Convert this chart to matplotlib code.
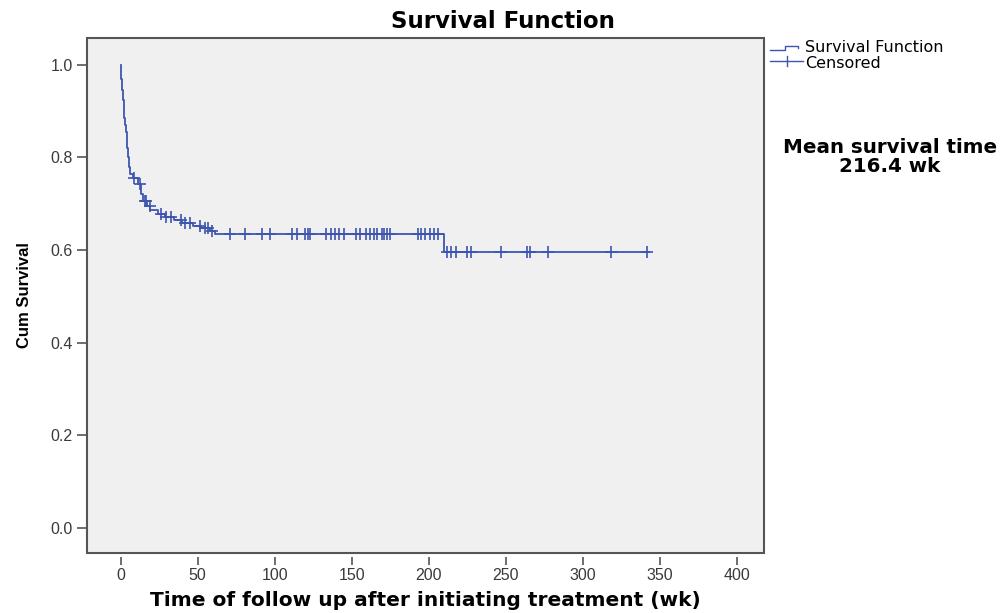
import numpy as np
import matplotlib
matplotlib.use("Agg")
import matplotlib.pyplot as plt
from matplotlib.lines import Line2D
from matplotlib.patches import Rectangle

plt.rcParams["font.family"] = ["Liberation Sans", "DejaVu Sans"]

# Kaplan-Meier steps (time in weeks, survival after the event)
event_t = [0, 0.5, 1, 1.5, 2, 2.5, 3, 3.5, 4, 4.5, 5, 5.5, 6, 8, 11, 13, 14.5,
           17, 19, 24, 29, 35, 40, 47, 52, 58, 61, 210]
event_s = [1.0, 0.97, 0.945, 0.925, 0.905, 0.885, 0.87, 0.855, 0.84, 0.82, 0.80,
           0.78, 0.765, 0.755, 0.742, 0.722, 0.707, 0.695, 0.686, 0.678, 0.671,
           0.665, 0.659, 0.653, 0.647, 0.641, 0.635, 0.595]
end_t = 343

censor_t = [9, 12.4, 15.6, 16.7, 18.9, 26.5, 29.8, 33, 39.5, 41.7, 45, 51.5, 54.7,
            56.9, 59.1, 71.0, 80.8, 91.7, 97.1, 111.2, 114.5, 119.8, 121.4, 123.1,
            133.5, 136.6, 139.4, 141.6, 144.8, 153.1, 155.2, 159.6, 161.7, 164.3,
            166.5, 169.8, 171.3, 173.1, 174.8, 193.1, 194.8, 197.4, 200.8, 203.5,
            206.1, 211.7, 214.3, 217.6, 224.8, 227.4, 246.9, 263.8, 266.0, 277.3,
            318.6, 341.8]

x_ticks = [0, 50, 100, 150, 200, 250, 300, 350, 400]
y_ticks = [0.0, 0.2, 0.4, 0.6, 0.8, 1.0]
mean_text = "Mean survival time\n216.4 wk"

blue = "#3d55b0"
frame = "#555555"
wide = "DejaVu Sans"

fig = plt.figure(figsize=(10.05, 6.13), dpi=100)
ax = fig.add_axes([0.087, 0.098, 0.673, 0.840])
ax.set_facecolor("#f0f0f0")

st = np.array(event_t + [end_t])
ss = np.array(event_s + [event_s[-1]])
ax.step(st, ss, where="post", color=blue, lw=1.3)

ct = np.array(censor_t)
idx = np.searchsorted(np.array(event_t), ct, side="right") - 1
cs = np.array(event_s)[idx]
ax.plot(ct, cs, ls="none", marker="+", ms=8, mew=1.2, color=blue)

ax.set_xlim(-21.5, 417.5)
ax.set_ylim(-0.054, 1.058)
ax.set_xticks(x_ticks)
ax.set_yticks(y_ticks)
ax.set_yticklabels([f"{v:.1f}" for v in y_ticks])

for sp in ax.spines.values():
    sp.set_visible(False)
ax.spines["bottom"].set_position(("outward", 3))
ax.add_patch(Rectangle((0, 0), 1, 1, transform=ax.transAxes, fill=False,
                       ec=frame, lw=1.5, clip_on=False, zorder=5))
ax.tick_params(axis="both", colors=frame, length=7, width=1.2,
               labelsize=11.5, labelcolor="#3a3a3a")
ax.tick_params(axis="x", length=6, pad=1.5)

fig.text(0.5, 1 - 22 / 613, "Survival Function", fontsize=16.5, fontweight="bold",
         family=wide, ha="center", va="center")
ax.set_xlabel("Time of follow up after initiating treatment (wk)", fontsize=14.5,
              fontweight="bold", family=wide, labelpad=6)
ax.set_ylabel("Cum Survival", fontsize=12, fontweight="bold", labelpad=13)

# legend drawn to the right of the frame
W, H = 1005, 613
def px(x, y):
    return x / W, 1 - y / H

lx, ly = zip(*[px(770, 50), px(785, 50), px(785, 45.5), px(798, 45.5), px(798, 48)])
fig.add_artist(Line2D(lx, ly, color=blue, lw=1))
lx, ly = zip(*[px(770, 61), px(803, 61)])
fig.add_artist(Line2D(lx, ly, color=blue, lw=1))
lx, ly = zip(*[px(787, 56), px(787, 66)])
fig.add_artist(Line2D(lx, ly, color=blue, lw=1))
fig.text(*px(805, 48), "Survival Function", fontsize=11.5, family=wide,
         va="center", ha="left")
fig.text(*px(805, 63), "Censored", fontsize=11.5, family=wide,
         va="center", ha="left")

fig.text(*px(890, 157), mean_text, fontsize=14.3, fontweight="bold", family=wide,
         ha="center", va="center", linespacing=1.0)

fig.savefig("out.png", dpi=100)
